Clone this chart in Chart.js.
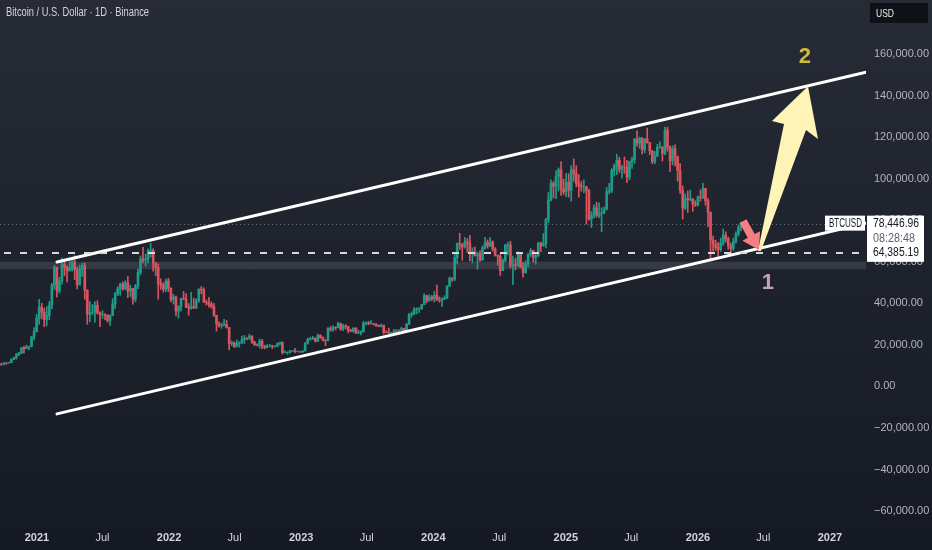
<!DOCTYPE html>
<html>
<head>
<meta charset="utf-8">
<title>BTCUSD channel</title>
<script src="https://cdn.jsdelivr.net/npm/chart.js@4.4.1/dist/chart.umd.min.js"></script>
<style>
html, body { margin: 0; padding: 0; background: #1d212b; }
#wrap { width: 932px; height: 550px; background: linear-gradient(180deg, #272b36 0%, #1f232d 45%, #151923 100%); }
</style>
</head>
<body>
<div id="wrap"><canvas id="myChart" width="932" height="550"></canvas></div>
<script>
// weekly candles, prices in thousands of USD, first week starts Monday 2020-09-14
const firstWeek = '2020-09-14';
const firstOpen = 10.3;

const closes = [
    10.9, 10.77, 11.37, 11.30, 11.50, 13.03, 13.78, 15.48, 16.0, 18.7, 18.2, 19.0, 19.2, 23.8, 26.4, 33.0,
    // 2021
    38.2, 35.8, 32.3, 34.3, 39.2, 48.6, 57.5, 46.1, 50.9, 59.0, 57.5, 55.8, 57.0, 60.0, 56.2, 49.1, 56.6, 58.2, 46.4, 34.7,
    35.7, 35.8, 39.1, 35.5, 34.6, 34.7, 34.3, 31.8, 34.2, 39.8, 44.6, 47.0, 49.3, 47.1, 49.9, 46.0, 47.3, 42.2, 48.2, 54.9,
    61.5, 60.9, 61.3, 65.5, 65.5, 59.7, 57.3, 49.4, 48.9, 46.7, 50.8, 47.3,
    // 2022
    41.9, 43.1, 36.3, 38.5, 42.4, 42.2, 38.4, 37.7, 38.4, 37.8, 41.3, 46.9, 46.4, 40.6, 40.4, 39.5, 38.5, 34.3, 30.1, 29.4,
    29.5, 29.9, 28.4, 20.6, 21.0, 19.3, 20.8, 21.2, 22.5, 23.3, 23.2, 24.3, 21.5, 20.0, 19.8, 21.8, 19.4, 18.8, 19.3, 19.4,
    19.2, 19.2, 20.6, 21.2, 16.3, 16.3, 16.5, 17.1, 17.1, 16.8, 16.8, 16.6,
    // 2023
    17.1, 20.9, 22.7, 23.1, 23.3, 21.8, 24.6, 23.6, 22.2, 22.1, 28.0, 27.5, 28.5, 28.3, 30.3, 27.8, 29.2, 28.9, 26.9, 26.7,
    28.1, 25.8, 25.9, 26.3, 30.5, 30.6, 30.2, 30.3, 30.1, 29.3, 29.0, 29.4, 26.1, 26.0, 25.8, 25.8, 26.6, 26.5, 27.0, 27.9,
    26.8, 29.9, 34.5, 35.0, 37.1, 37.4, 37.4, 39.4, 43.8, 41.4, 43.0, 42.3,
    // 2024
    43.9, 41.7, 41.6, 42.0, 42.6, 48.3, 52.1, 51.7, 62.0, 68.9, 68.4, 67.2, 69.7, 69.0, 63.9, 64.9, 63.1, 64.0, 61.0, 66.9,
    69.3, 67.8, 69.6, 66.2, 63.2, 62.7, 55.8, 60.8, 68.2, 68.3, 58.2, 58.7, 58.4, 64.2, 57.3, 54.8, 59.1, 63.6, 65.6, 62.1,
    63.0, 69.0, 67.9, 68.7, 80.4, 89.9, 97.9, 96.4, 101.2, 104.5, 95.2, 93.7, 98.4,
    // 2025
    94.5, 104.4, 102.6, 97.7, 96.5, 96.2, 96.2, 94.3, 80.7, 82.6, 86.1, 82.4, 83.5, 83.7, 85.2, 93.8, 94.3, 104.1, 106.4, 109.0,
    104.6, 105.7, 105.6, 100.9, 108.4, 109.2, 119.1, 117.3, 119.5, 114.2, 119.3, 117.5, 113.5, 108.3, 111.1, 115.3, 115.3, 112.2, 123.5, 115.2,
    108.7, 114.5, 110.6, 104.0, 94.5, 86.0, 90.5, 90.0, 90.3, 88.0, 87.5, 91.3,
    // 2026
    91.0, 95.5, 89.5, 84.0, 70.5, 68.5, 67.0, 66.0, 69.0, 73.0, 71.0, 67.5, 66.5, 70.0, 73.5, 76.5, 78.447
];

const highs = [
    11.2, 10.9, 11.4, 11.5, 11.7, 13.3, 14.1, 15.9, 16.5, 18.8, 19.4, 19.9, 19.4, 24.2, 28.4, 34.8,
    // 2021
    42.0, 40.1, 37.8, 38.5, 40.9, 49.7, 58.4, 54.2, 52.6, 61.8, 60.6, 58.0, 60.2, 61.2, 63.0, 57.5, 58.5, 59.5, 59.6, 46.6,
    40.9, 39.5, 40.9, 41.3, 36.0, 36.5, 35.1, 34.6, 34.5, 42.3, 45.3, 48.1, 49.8, 50.5, 51.0, 52.9, 48.8, 45.0, 49.2, 56.6,
    62.9, 67.0, 63.7, 66.3, 69.0, 66.3, 59.3, 59.0, 51.9, 50.1, 51.9, 52.1,
    // 2022
    47.5, 44.4, 43.5, 38.9, 42.6, 45.8, 44.8, 40.0, 45.4, 42.6, 42.3, 47.0, 48.2, 47.5, 41.6, 42.9, 40.8, 40.0, 34.2, 31.2,
    30.6, 32.4, 31.8, 28.4, 21.9, 21.5, 22.4, 21.6, 24.3, 24.6, 23.6, 25.2, 24.4, 21.8, 20.5, 22.8, 22.7, 19.9, 20.2, 20.4,
    19.9, 19.7, 21.0, 21.4, 21.5, 17.2, 16.7, 17.4, 17.4, 18.4, 17.1, 16.8,
    // 2023
    17.2, 21.2, 23.3, 23.8, 24.2, 23.4, 25.2, 25.0, 23.9, 22.6, 28.4, 28.9, 29.2, 28.8, 31.0, 30.5, 30.0, 29.8, 28.9, 27.6,
    28.3, 28.4, 27.2, 26.8, 31.4, 31.2, 31.4, 31.8, 30.4, 30.2, 29.7, 30.1, 29.6, 26.8, 28.1, 26.1, 27.5, 27.4, 27.4, 28.6,
    28.0, 30.4, 35.2, 35.9, 38.0, 37.9, 38.0, 39.6, 44.7, 44.0, 44.2, 43.8,
    // 2024
    45.9, 48.9, 43.2, 42.8, 43.8, 48.6, 52.8, 52.5, 64.0, 69.2, 73.8, 68.9, 71.8, 71.3, 72.8, 66.8, 67.2, 64.7, 65.5, 67.7,
    71.9, 70.6, 71.9, 70.2, 66.9, 63.3, 63.8, 61.4, 68.4, 69.4, 70.0, 62.8, 61.8, 65.0, 64.5, 59.8, 60.6, 64.1, 66.5, 65.6,
    64.5, 69.5, 69.5, 73.6, 81.0, 93.5, 99.6, 98.7, 104.0, 105.3, 108.4, 99.9, 102.7,
    // 2025
    102.5, 106.4, 109.6, 106.4, 102.0, 98.8, 99.5, 96.5, 95.0, 84.2, 87.5, 88.8, 88.5, 86.1, 86.4, 95.8, 97.9, 105.0, 107.1, 111.9,
    110.4, 106.5, 110.6, 108.9, 108.5, 110.5, 119.5, 123.2, 120.2, 120.0, 119.5, 124.5, 117.6, 113.8, 113.3, 116.7, 117.9, 115.6, 125.0, 125.0,
    115.9, 116.0, 116.4, 111.0, 107.4, 96.6, 92.9, 94.2, 94.6, 90.6, 89.5, 91.8,
    // 2026
    94.7, 97.9, 95.5, 90.5, 84.0, 72.5, 70.5, 69.5, 71.5, 75.8, 74.5, 72.0, 69.0, 71.5, 74.5, 77.8, 79.2
];

const lows = [
    10.2, 10.2, 10.4, 10.6, 11.2, 11.4, 12.9, 13.2, 14.8, 15.8, 16.2, 18.2, 17.6, 19.0, 22.4, 26.2,
    // 2021
    30.0, 32.5, 28.8, 29.2, 32.2, 37.4, 46.8, 43.0, 45.0, 49.3, 53.3, 50.4, 55.5, 55.5, 51.5, 47.0, 48.8, 53.0, 42.0, 30.0,
    31.2, 34.5, 31.0, 34.8, 28.8, 32.7, 32.1, 31.0, 29.3, 34.0, 37.6, 43.8, 43.9, 46.3, 46.6, 42.8, 43.4, 39.6, 40.8, 47.1,
    53.9, 59.5, 58.0, 59.4, 62.3, 55.6, 53.3, 42.0, 46.8, 45.5, 45.6, 45.7,
    // 2022
    40.7, 39.7, 34.0, 32.9, 36.3, 41.7, 38.0, 34.3, 37.2, 37.6, 37.6, 40.5, 44.6, 40.6, 39.2, 38.2, 37.7, 33.7, 26.7, 28.6,
    28.0, 29.2, 28.1, 17.6, 19.6, 18.7, 19.0, 18.9, 20.6, 20.7, 22.4, 22.7, 20.8, 19.7, 19.5, 18.5, 18.2, 18.1, 18.5, 19.2,
    18.2, 18.9, 19.2, 20.0, 15.6, 16.2, 15.5, 16.1, 16.9, 16.3, 16.6, 16.4,
    // 2023
    16.5, 17.1, 20.4, 22.4, 22.6, 21.4, 21.6, 23.1, 21.9, 19.6, 21.9, 26.6, 26.5, 27.3, 28.2, 27.0, 26.9, 27.7, 25.8, 26.4,
    26.1, 25.4, 25.4, 24.8, 26.3, 29.6, 29.7, 30.0, 29.6, 28.9, 28.7, 28.7, 25.2, 25.8, 25.3, 24.9, 25.0, 26.0, 26.0, 26.9,
    26.5, 26.8, 29.9, 33.4, 34.5, 35.0, 35.6, 37.1, 39.4, 40.3, 41.0, 41.4,
    // 2024
    40.7, 41.5, 40.6, 38.6, 41.9, 42.3, 48.3, 50.6, 51.0, 59.0, 66.0, 60.8, 66.6, 64.5, 60.6, 59.6, 62.8, 56.5, 60.2, 60.7,
    66.1, 66.6, 67.4, 65.1, 62.8, 58.4, 53.5, 55.8, 60.0, 63.4, 57.1, 49.0, 56.1, 57.8, 57.2, 52.6, 54.6, 57.6, 62.6, 59.9,
    58.9, 62.4, 65.0, 67.5, 66.8, 79.0, 89.4, 90.8, 90.5, 94.2, 92.1, 92.5, 91.4,
    // 2025
    91.2, 89.3, 98.9, 96.2, 91.2, 94.1, 93.4, 78.2, 80.0, 76.6, 81.2, 81.6, 81.3, 74.5, 83.1, 85.1, 92.8, 93.4, 101.4, 102.1,
    103.1, 100.4, 102.7, 98.2, 99.6, 105.1, 107.5, 115.8, 114.7, 112.0, 112.6, 117.2, 111.7, 107.3, 107.3, 110.6, 114.8, 108.6, 111.6, 113.4,
    103.5, 106.7, 106.3, 98.9, 93.0, 80.6, 85.2, 83.8, 89.5, 84.4, 86.7, 86.9,
    // 2026
    89.3, 90.5, 87.3, 77.0, 61.5, 65.2, 65.5, 62.5, 65.0, 68.0, 69.5, 66.0, 64.0, 65.5, 69.0, 72.5, 75.0
];

// axes
const xTickDates = [ '2021-01-01', '2021-07-01', '2022-01-01', '2022-07-01', '2023-01-01', '2023-07-01', '2024-01-01',
    '2024-07-01', '2025-01-01', '2025-07-01', '2026-01-01', '2026-07-01', '2027-01-01' ];
const xTickLabels = [ '2021', 'Jul', '2022', 'Jul', '2023', 'Jul', '2024', 'Jul', '2025', 'Jul', '2026', 'Jul', '2027' ];
const yTicks = [ -60, -40, -20, 0, 20, 40, 60, 80, 100, 120, 140, 160 ];

// drawings: [days since 2021-01-01, price in thousands]
const upperChannel = [ [ 55.3, 60.0 ], [ 2290.4, 151.4 ] ];
const lowerChannel = [ [ 55.3, -13.2 ], [ 2290.4, 78.7 ] ];
const lastPrice = 78.44696;
const levelPrice = 64.38519;
const grayBand = [ 56.5, 60.1 ];
const yellowArrow = [ [ 1992.1, 65.3 ], [ 2063.9, 126.4 ], [ 2030.7, 127.9 ], [ 2130.2, 144.7 ], [ 2157.8, 119.2 ], [ 2124.7, 123.6 ], [ 2000.3, 65.3 ] ];
const redArrow = [ [ 1941.0, 78.8 ], [ 1960.3, 80.6 ], [ 1983.2, 73.4 ], [ 1997.9, 74.8 ], [ 1994.8, 65.7 ], [ 1949.2, 70.2 ], [ 1963.9, 71.6 ] ];
const marks = [ { text: '2', at: [ 2121.9, 158.7 ], color: '#cdbb3c' }, { text: '1', at: [ 2019.7, 49.9 ], color: '#c6a2b0' } ];

const FONT = "'Liberation Sans', Arial, sans-serif";
const UP = '#1f9a88';
const DOWN = '#d9545f';

const dayOf = ( s ) => ( Date.parse( s ) - Date.parse( '2021-01-01' ) ) / 864e5;
const weekX = ( i ) => dayOf( firstWeek ) + i * 7 + 3;
const opens = [ firstOpen ].concat( closes.slice( 0, -1 ) );
const candleColors = closes.map( ( c, i ) => c >= opens[ i ] ? UP : DOWN );

const wicks = closes.map( ( c, i ) => ( { x: weekX( i ), y: [ lows[ i ], highs[ i ] ] } ) );
const bodies = closes.map( ( c, i ) => ( { x: weekX( i ), y: [ opens[ i ], c ] } ) );
const toPoints = ( arr ) => arr.map( p => ( { x: p[ 0 ], y: p[ 1 ] } ) );

const fmtPrice = ( v ) => {
    const s = Math.abs( v * 1000 ).toLocaleString( 'en-US', { minimumFractionDigits: 2, maximumFractionDigits: 2 } );
    return ( v < 0 ? '\u2212' : '' ) + s;
};

// text squeezed to a width, the chart font is narrower than Arial
const fitText = ( ctx, text, x, y, width ) => {
    const w = ctx.measureText( text ).width;
    const k = Math.min( 1, width / w );
    ctx.save();
    ctx.translate( x, y );
    ctx.scale( k, 1 );
    ctx.fillText( text, 0, 0 );
    ctx.restore();
};

// extra drawings on top of the chart
const drawings = {
    id: 'drawings',
    beforeDatasetsDraw( chart ) {
        const { ctx, chartArea: a, scales: { y } } = chart;
        ctx.save();
        // gray band
        const t = y.getPixelForValue( grayBand[ 1 ] );
        const b = y.getPixelForValue( grayBand[ 0 ] );
        ctx.fillStyle = 'rgba(190,196,210,0.14)';
        ctx.fillRect( 0, t, a.right, b - t );
        // last price dotted line
        const yl = Math.round( y.getPixelForValue( lastPrice ) ) + 0.5;
        ctx.strokeStyle = 'rgba(200,204,212,0.45)';
        ctx.lineWidth = 1;
        ctx.setLineDash( [ 1, 3 ] );
        ctx.beginPath();
        ctx.moveTo( 0, yl );
        ctx.lineTo( a.right, yl );
        ctx.stroke();
        ctx.restore();
    },
    afterDatasetsDraw( chart ) {
        const { ctx, chartArea: a, scales: { x, y } } = chart;
        ctx.save();
        // dashed level
        const yd = Math.round( y.getPixelForValue( levelPrice ) );
        ctx.strokeStyle = '#d6d8dc';
        ctx.lineWidth = 2;
        ctx.setLineDash( [ 7, 9 ] );
        ctx.beginPath();
        ctx.moveTo( 4, yd );
        ctx.lineTo( a.right, yd );
        ctx.stroke();
        ctx.setLineDash( [] );

        const poly = ( pts, color ) => {
            ctx.fillStyle = color;
            ctx.beginPath();
            pts.forEach( ( p, i ) => {
                const px = x.getPixelForValue( p[ 0 ] ), py = y.getPixelForValue( p[ 1 ] );
                if ( i === 0 ) ctx.moveTo( px, py ); else ctx.lineTo( px, py );
            } );
            ctx.closePath();
            ctx.fill();
        };
        poly( yellowArrow, '#fff4b8' );
        poly( redArrow, '#f57d83' );

        ctx.font = 'bold 22px ' + FONT;
        ctx.textAlign = 'center';
        ctx.textBaseline = 'middle';
        marks.forEach( m => {
            ctx.fillStyle = m.color;
            ctx.fillText( m.text, x.getPixelForValue( m.at[ 0 ] ), y.getPixelForValue( m.at[ 1 ] ) );
        } );
        ctx.restore();
    },
    afterDraw( chart ) {
        const { ctx, chartArea: a, scales: { y } } = chart;
        ctx.save();
        ctx.textBaseline = 'middle';
        ctx.textAlign = 'left';

        // title
        ctx.font = '12px ' + FONT;
        ctx.fillStyle = '#d1d4dc';
        fitText( ctx, 'Bitcoin / U.S. Dollar \u00b7 1D \u00b7 Binance', 6, 13, 143 );

        // currency box
        ctx.fillStyle = '#0f1117';
        ctx.fillRect( 870, 3, 58, 20 );
        ctx.fillStyle = '#e8e9ec';
        ctx.font = '11px ' + FONT;
        fitText( ctx, 'USD', 876, 13.5, 18 );

        // price labels
        const yl = y.getPixelForValue( lastPrice );
        const yd = y.getPixelForValue( levelPrice );
        ctx.fillStyle = '#ffffff';
        ctx.fillRect( 825, yl - 8, 40, 15 );
        ctx.fillRect( a.right + 1, yl - 8, 57, yd - yl + 17 );
        ctx.fillStyle = '#131722';
        ctx.font = '12px ' + FONT;
        fitText( ctx, 'BTCUSD', 829, yl, 33 );
        fitText( ctx, fmtPrice( lastPrice ), 873, yl, 46 );
        fitText( ctx, fmtPrice( levelPrice ), 873, yd, 46 );
        ctx.fillStyle = '#5d606b';
        fitText( ctx, '08:28:48', 873, ( yl + yd ) / 2, 42 );
        ctx.restore();
    }
};

const ctx = document.getElementById( 'myChart' ).getContext( '2d' );

new Chart( ctx, {
    type: 'bar',
    data: {
        datasets: [
            {
                type: 'line',
                data: toPoints( upperChannel ),
                borderColor: '#ffffff',
                borderWidth: 3,
                borderCapStyle: 'round',
                pointRadius: 0,
                order: 0
            },
            {
                type: 'line',
                data: toPoints( lowerChannel ),
                borderColor: '#ffffff',
                borderWidth: 3,
                borderCapStyle: 'round',
                pointRadius: 0,
                order: 0
            },
            {
                data: wicks,
                backgroundColor: candleColors,
                barThickness: 1,
                grouped: false,
                order: 2
            },
            {
                data: bodies,
                backgroundColor: candleColors,
                barThickness: 2,
                grouped: false,
                order: 1
            }
        ]
    },
    options: {
        responsive: false,
        animation: false,
        layout: { padding: 0 },
        plugins: {
            legend: { display: false },
            tooltip: { enabled: false }
        },
        scales: {
            x: {
                type: 'linear',
                min: -102.2,
                max: 2290.5,
                offset: false,
                grid: { display: false, drawTicks: false },
                border: { display: false },
                afterBuildTicks: ( s ) => { s.ticks = xTickDates.map( d => ( { value: dayOf( d ) } ) ); },
                afterFit: ( s ) => { s.height = 28; s.paddingLeft = 0; s.paddingRight = 0; },
                ticks: {
                    autoSkip: false,
                    maxRotation: 0,
                    padding: 9,
                    color: '#d1d4dc',
                    font: ( c ) => ( { family: FONT, size: 11, weight: xTickLabels[ c.index ] === 'Jul' ? 'normal' : 'bold' } ),
                    callback: ( v, i ) => xTickLabels[ i ]
                }
            },
            y: {
                position: 'right',
                min: -65.3,
                max: 186.2,
                grid: { display: false, drawTicks: false },
                border: { display: false },
                afterBuildTicks: ( s ) => { s.ticks = yTicks.map( v => ( { value: v } ) ); },
                afterFit: ( s ) => { s.width = 66; s.paddingTop = 0; s.paddingBottom = 0; },
                ticks: {
                    padding: 8,
                    color: '#b2b5be',
                    font: { family: FONT, size: 11 },
                    callback: ( v ) => fmtPrice( v )
                }
            }
        }
    },
    plugins: [ drawings ]
});
</script>
</body>
</html>
